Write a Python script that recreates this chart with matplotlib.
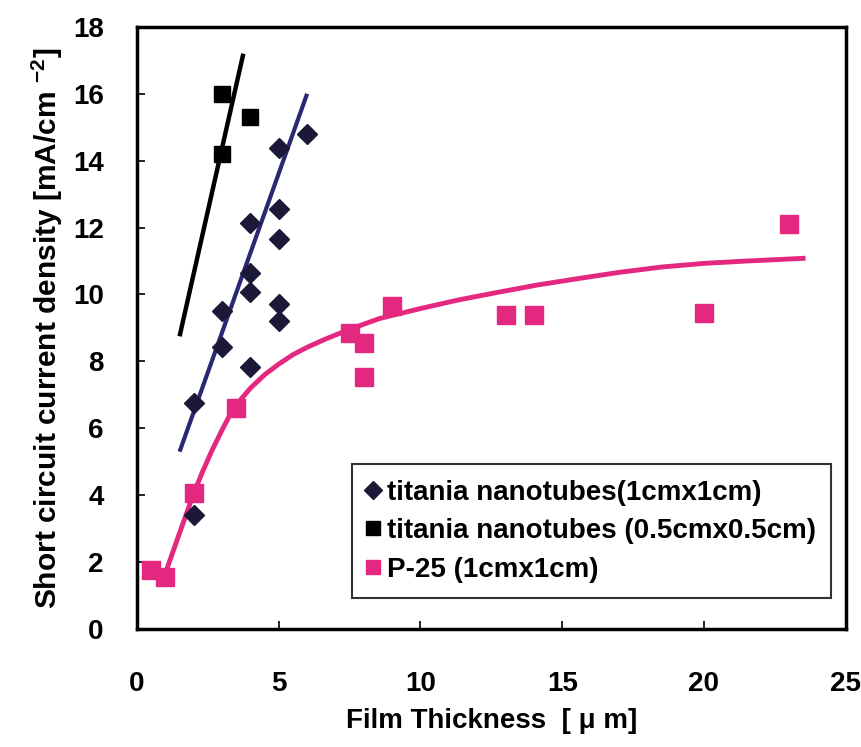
import matplotlib
matplotlib.use("Agg")
import matplotlib.pyplot as plt
from matplotlib.lines import Line2D

plt.rcParams['font.family'] = ['Liberation Sans', 'DejaVu Sans']
plt.rcParams['mathtext.fontset'] = 'custom'
plt.rcParams['mathtext.rm'] = 'Liberation Sans'
plt.rcParams['mathtext.bf'] = 'Liberation Sans:bold'

# titania nanotubes (1cm x 1cm)
nt1_x = [2, 2, 3, 3, 4, 4, 4, 4, 5, 5, 5, 5, 5, 6]
nt1_y = [3.4, 6.75, 8.42, 9.52, 7.82, 10.06, 10.63, 12.15, 9.22, 9.73, 11.67, 12.57, 14.39, 14.8]
nt1_line_x = [1.5, 6.0]
nt1_line_y = [5.3, 16.0]

# titania nanotubes (0.5cm x 0.5cm)
nt05_x = [3, 3, 4]
nt05_y = [16.0, 14.2, 15.3]
nt05_line_x = [1.5, 3.75]
nt05_line_y = [8.75, 17.2]

# P-25 (1cm x 1cm)
p25_x = [0.5, 1.0, 2, 3.5, 7.5, 8, 8, 9, 13, 14, 20, 23]
p25_y = [1.75, 1.55, 4.06, 6.6, 8.85, 8.55, 7.52, 9.65, 9.4, 9.4, 9.45, 12.1]
p25_curve_x = [0.95, 1.45, 2.0, 2.3, 2.65, 3.0, 3.4, 4.0, 4.5, 5.0, 5.5, 6.0, 6.6, 7.15, 7.8,
               8.55, 10.0, 11.3, 12.7, 14.1, 15.6, 17.0, 18.5, 20.0, 21.5, 23.5]
p25_curve_y = [1.55, 2.75, 4.06, 4.68, 5.35, 5.95, 6.6, 7.2, 7.6, 7.92, 8.2, 8.42, 8.65, 8.84, 9.05,
               9.28, 9.58, 9.83, 10.06, 10.28, 10.48, 10.66, 10.82, 10.93, 11.0, 11.08]

x_ticks = [0, 5, 10, 15, 20, 25]
y_ticks = [0, 2, 4, 6, 8, 10, 12, 14, 16, 18]

pink = '#E5287F'
navy = '#2A2870'
dia = '#1C1838'

fig = plt.figure(figsize=(8.62, 7.47), dpi=100)
ax = fig.add_axes([0.159, 0.158, 0.822, 0.806])

ax.plot(nt05_line_x, nt05_line_y, color='black', lw=3.2, solid_capstyle='butt', zorder=2)
ax.plot(nt1_line_x, nt1_line_y, color=navy, lw=3.0, solid_capstyle='butt', zorder=2)
ax.plot(p25_curve_x, p25_curve_y, color=pink, lw=3.5, solid_joinstyle='round', zorder=2)

ax.plot(nt1_x, nt1_y, linestyle='none', marker='D', ms=10.5, color=dia, zorder=3)
ax.plot(nt05_x, nt05_y, linestyle='none', marker='s', ms=12, color='black', zorder=3)
ax.plot(p25_x, p25_y, linestyle='none', marker='s', ms=13.5, color=pink, zorder=3)

ax.set_xlim(0, 25)
ax.set_ylim(0, 18)
ax.set_xticks(x_ticks)
ax.set_yticks(y_ticks)
ax.tick_params(direction='in', length=6, width=1.2)
ax.tick_params(axis='y', pad=24)
ax.tick_params(axis='x', pad=30)
for lab in ax.get_xticklabels() + ax.get_yticklabels():
    lab.set_fontsize(20)
    lab.set_fontweight('bold')
for s in ax.spines.values():
    s.set_linewidth(2.5)

ax.set_xlabel('Film Thickness  [ μ m]', fontsize=20, fontweight='bold', labelpad=8)
ax.set_ylabel(r'Short circuit current density [mA/cm $^{\mathbf{-2}}$]', fontsize=21.5,
              fontweight='bold', labelpad=6)

handles = [
    Line2D([], [], linestyle='none', marker='D', ms=9, color=dia),
    Line2D([], [], linestyle='none', marker='s', ms=10, color='black'),
    Line2D([], [], linestyle='none', marker='s', ms=10, color=pink),
]
labels = ['titania nanotubes(1cmx1cm)', 'titania nanotubes (0.5cmx0.5cm)', 'P-25 (1cmx1cm)']
leg = ax.legend(handles, labels, loc='lower right', bbox_to_anchor=(0.980, 0.0515),
                prop={'weight': 'bold', 'size': 20}, frameon=True, fancybox=False,
                edgecolor='black', handlelength=0.4, handletextpad=0.3,
                borderpad=0.55, labelspacing=0.45, borderaxespad=0)
leg.get_frame().set_linewidth(1.5)

fig.savefig('out.png', dpi=100)
